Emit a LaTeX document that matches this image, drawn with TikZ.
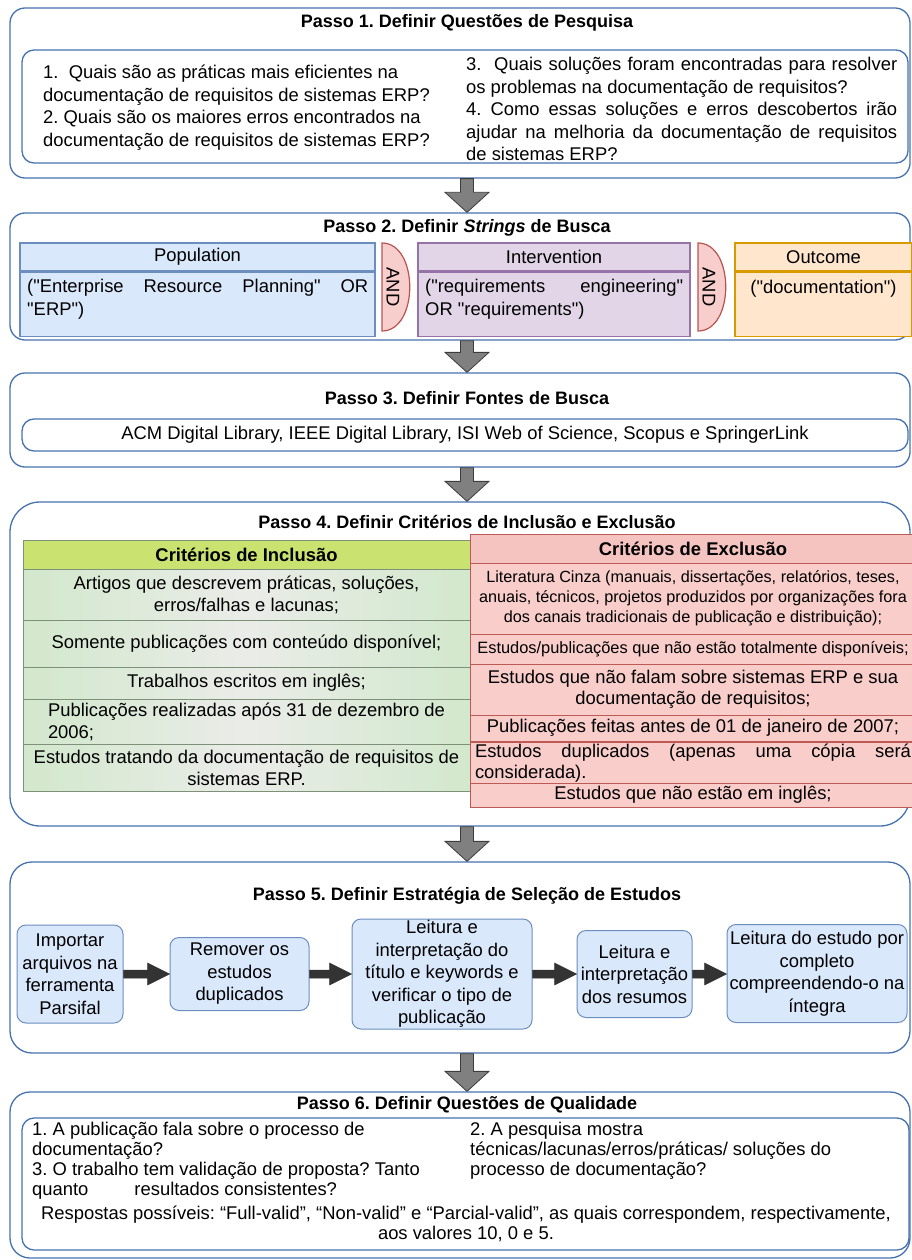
\documentclass[tikz,border=0pt]{standalone}
\usepackage{fontspec}
\setmainfont{Liberation Sans}
\newfontfamily\rawsans{Liberation Sans}
\usetikzlibrary{calc}
\frenchspacing

\definecolor{stepline}{RGB}{70,114,176}
\definecolor{flowgray}{RGB}{128,128,128}
\definecolor{flowedge}{RGB}{60,60,60}
\definecolor{popfill}{RGB}{218,232,252}
\definecolor{popline}{RGB}{108,142,191}
\definecolor{intfill}{RGB}{225,213,231}
\definecolor{intline}{RGB}{150,115,166}
\definecolor{outcfill}{RGB}{255,230,204}
\definecolor{outcline}{RGB}{215,155,0}
\definecolor{andfill}{RGB}{248,206,204}
\definecolor{andline}{RGB}{184,84,80}
\definecolor{incheadfill}{RGB}{202,227,112}
\definecolor{incrowfill}{RGB}{210,232,204}
\definecolor{incmidfill}{RGB}{234,236,232}
\definecolor{incline}{RGB}{125,145,120}
\definecolor{excheadfill}{RGB}{246,196,192}
\definecolor{excrowfill}{RGB}{248,205,202}
\definecolor{excline}{RGB}{190,90,85}
\definecolor{selfill}{RGB}{218,232,252}
\definecolor{selline}{RGB}{108,142,191}
\definecolor{selarrow}{RGB}{51,51,51}

\newcommand\jline[2]{\makebox[#1pt][s]{#2}}
\newcommand\lline[2]{\makebox[#1pt][l]{#2}}

\begin{document}
\begin{tikzpicture}[x=1pt, y=-1pt,
  every node/.style={inner sep=0, font=\fontsize{18.4}{22.5}\selectfont},
  stepbox/.style={draw=stepline, line width=1.3pt, minimum width=900},
  innerbox/.style={draw=stepline, line width=1.3pt, rounded corners=12pt},
  steptitle/.style={font=\fontsize{18}{22}\selectfont\bfseries},
  flowdown/.style={draw=flowedge, fill=flowgray, line width=0.8pt},
  flowright/.style={draw=selarrow, fill=selarrow, line width=0.5pt},
  popbox/.style={draw=popline, fill=popfill, line width=1.2pt},
  intbox/.style={draw=intline, fill=intfill, line width=1.2pt},
  outcbox/.style={draw=outcline, fill=outcfill, line width=1.2pt},
  andjoin/.style={draw=andline, fill=andfill, line width=1.2pt},
  inchead/.style={draw=incline, fill=incheadfill, minimum width=447,
    font=\fontsize{18.4}{22}\selectfont\bfseries},
  incrow/.style={draw=incline, left color=incrowfill, right color=incrowfill,
    middle color=incmidfill, minimum width=447, align=center,
    font=\fontsize{18.4}{22}\selectfont},
  exchead/.style={draw=excline, fill=excheadfill, minimum width=446,
    font=\fontsize{18.4}{22}\selectfont\bfseries},
  excrow/.style={draw=excline, fill=excrowfill, minimum width=446, align=center,
    font=\fontsize{18.4}{21}\selectfont},
  selbox/.style={draw=selline, fill=selfill, line width=1pt, rounded corners=9pt, align=center}
]
  \useasboundingbox (0,0) rectangle (912,1260);

  % Steps and their titles
  \foreach \ya/\yb/\rad/\ty/\ttl [count=\n] in {
    8/178/15pt/23/{Definir Questões de Pesquisa},
    213/340/15pt/228/{Definir \textit{Strings} de Busca},
    373/467/15pt/398/{Definir Fontes de Busca},
    502/826/30pt/522/{Definir Critérios de Inclusão e Exclusão},
    862/1053/22pt/896/{Definir Estratégia de Seleção de Estudos},
    1092/1258/20pt/1105/{Definir Questões de Qualidade}
  } {
    \node[stepbox, rounded corners=\rad, minimum height={\yb-\ya}] (s\n) at (460,{(\ya+\yb)/2}) {};
    \node[steptitle] (t\n) at (467,\ty) {Passo \n. \ttl};
  }

  % Block arrows between steps
  \foreach \i/\j in {1/2,2/3,3/4,4/5,5/6}
    \draw[flowdown] let \p1=(s\i.south -| t\i), \p2=(s\j.north -| t\j) in
      (\x1-6.5,\y1) -- (\x1-6.5,\y2+20) -- (\x1-22,\y2+20) -- (\x1,\y2)
      -- (\x1+22,\y2+20) -- (\x1+6.5,\y2+20) -- (\x1+6.5,\y1) -- cycle;

  % Step 1: research questions
  \node[innerbox, minimum width=886, minimum height=113] (q1) at (465,106.5) {};
  \node[align=left, anchor=west] (q1l) at (43,107.5)
    {1.~~Quais são as práticas mais eficientes na\\documentação de requisitos de sistemas ERP?\\2. Quais são os maiores erros encontrados na\\documentação de requisitos de sistemas ERP?};
  \node[align=left, anchor=west] (q1r) at (466,109)
    {\jline{431}{3.~~Quais soluções foram encontradas para resolver}\\os problemas na documentação de requisitos?\\\jline{431}{4. Como essas soluções e erros descobertos irão}\\\jline{431}{ajudar na melhoria da documentação de requisitos}\\de sistemas ERP?};

  % Step 2: search string
  \foreach \xa/\xb/\sty/\hd [count=\n] in {20/375/popbox/Population, 418/690/intbox/Intervention, 735/912/outcbox/Outcome} {
    \node[\sty, minimum width={\xb-\xa}, minimum height=28] (h\n) at ({(\xa+\xb)/2},257) {\hd};
    \node[\sty, minimum width={\xb-\xa}, minimum height=64, anchor=north] (b\n) at (h\n.south) {};
  }
  \node[align=left, anchor=west, font=\rawsans\fontsize{18.4}{22.5}\selectfont] (pb) at (27,299)
    {\jline{341}{("Enterprise Resource Planning" OR}\\"ERP")};
  \node[align=left, anchor=west, font=\rawsans\fontsize{18.4}{22.5}\selectfont] (ib) at (425,299)
    {\jline{258}{("requirements engineering"}\\OR "requirements")};
  \node[font=\rawsans\fontsize{18.4}{22.5}\selectfont] (ob) at (823.5,289) {("documentation")};
  \foreach \xa [count=\n] in {382,698} {
    \draw[andjoin] (\xa,243) -- (\xa,331) .. controls (\xa+37,331) and (\xa+37,243) .. (\xa,243) -- cycle;
    \node[rotate=-90] (and\n) at (\xa+11,287) {AND};
  }

  % Step 3: sources
  \node[innerbox, minimum width=886, minimum height=32] (src) at (465,435)
    {ACM Digital Library, IEEE Digital Library, ISI Web of Science, Scopus e SpringerLink};

  % Step 4: inclusion criteria
  \node[inchead, minimum height=29] (inc0) at (246.5,554.5) {Critérios de Inclusão};
  \node[incrow, minimum height=51] (inc1) at (246.5,594.5) {Artigos que descrevem práticas, soluções,\\erros/falhas e lacunas;};
  \node[incrow, minimum height=47] (inc2) at (246.5,643.5) {Somente publicações com conteúdo disponível;};
  \node[incrow, minimum height=32] (inc3) at (246.5,683) {Trabalhos escritos em inglês;};
  \node[incrow, minimum height=45] (inc4) at (246.5,721.5) {Publicações realizadas após 31 de dezembro de\\\lline{397}{2006;}};
  \node[incrow, minimum height=47] (inc5) at (246.5,767.5) {Estudos tratando da documentação de requisitos de\\sistemas ERP.};

  % Step 4: exclusion criteria
  \node[exchead, minimum height=29] (exc0) at (693,548.5) {Critérios de Exclusão};
  \node[excrow, minimum height=71, font=\fontsize{16.2}{20}\selectfont] (exc1) at (693,598.5)
    {Literatura Cinza (manuais, dissertações, relatórios, teses,\\anuais, técnicos, projetos produzidos por organizações fora\\dos canais tradicionais de publicação e distribuição);};
  \node[excrow, minimum height=30, font=\fontsize{16.4}{20}\selectfont] (exc2) at (693,649)
    {Estudos/publicações que não estão totalmente disponíveis;};
  \node[excrow, minimum height=51] (exc3) at (693,689.5) {Estudos que não falam sobre sistemas ERP e sua\\documentação de requisitos;};
  \node[excrow, minimum height=26] (exc4) at (693,728) {Publicações feitas antes de 01 de janeiro de 2007;};
  \node[excrow, minimum height=42] (exc5) at (693,763) {\jline{436}{Estudos duplicados (apenas uma cópia será}\\\lline{436}{considerada).}};
  \node[excrow, minimum height=24] (exc6) at (693,795) {Estudos que não estão em inglês;};

  % Step 5: selection strategy
  \node[selbox, minimum width=106, minimum height=98] (sel1) at (70,974) {Importar\\arquivos na\\ferramenta\\Parsifal};
  \node[selbox, minimum width=139, minimum height=73] (sel2) at (239.5,974) {Remover os\\estudos\\duplicados};
  \node[selbox, minimum width=180, minimum height=110] (sel3) at (442,974) {Leitura e\\interpretação do\\título e keywords e\\verificar o tipo de\\publicação};
  \node[selbox, minimum width=115, minimum height=87] (sel4) at (634.5,974) {Leitura e\\interpretação\\dos resumos};
  \node[selbox, minimum width=180, minimum height=98] (sel5) at (817,973.5) {Leitura do estudo por\\completo\\compreendendo-o na\\íntegra};
  \foreach \i/\j in {1/2,2/3,3/4,4/5}
    \draw[flowright] let \p1=(sel\i.east), \p2=(sel\j.west) in
      (\x1,\y1+4) -- (\x2-22,\y1+4) -- (\x2-22,\y1+11) -- (\x2,\y1)
      -- (\x2-22,\y1-11) -- (\x2-22,\y1-4) -- (\x1,\y1-4) -- cycle;

  % Step 6: quality questions
  \node[innerbox, minimum width=887, minimum height=132] (q6) at (465.5,1184) {};
  \node[align=left, anchor=west, font=\fontsize{18.4}{20}\selectfont] (q6l) at (32,1161)
    {1. A publicação fala sobre o processo de\\documentação?\\3. O trabalho tem validação de proposta? Tanto\\quanto\hspace*{46pt}resultados consistentes?};
  \node[align=left, anchor=west, font=\fontsize{18.4}{20}\selectfont] (q6r) at (470,1151)
    {2. A pesquisa mostra\\técnicas/lacunas/erros/práticas/ soluções do\\processo de documentação?};
  \node[align=center, font=\fontsize{18.4}{20}\selectfont] (q6n) at (466,1224)
    {Respostas possíveis: “Full-valid”, “Non-valid” e “Parcial-valid”, as quais correspondem, respectivamente,\\aos valores 10, 0 e 5.};
\end{tikzpicture}
\end{document}
